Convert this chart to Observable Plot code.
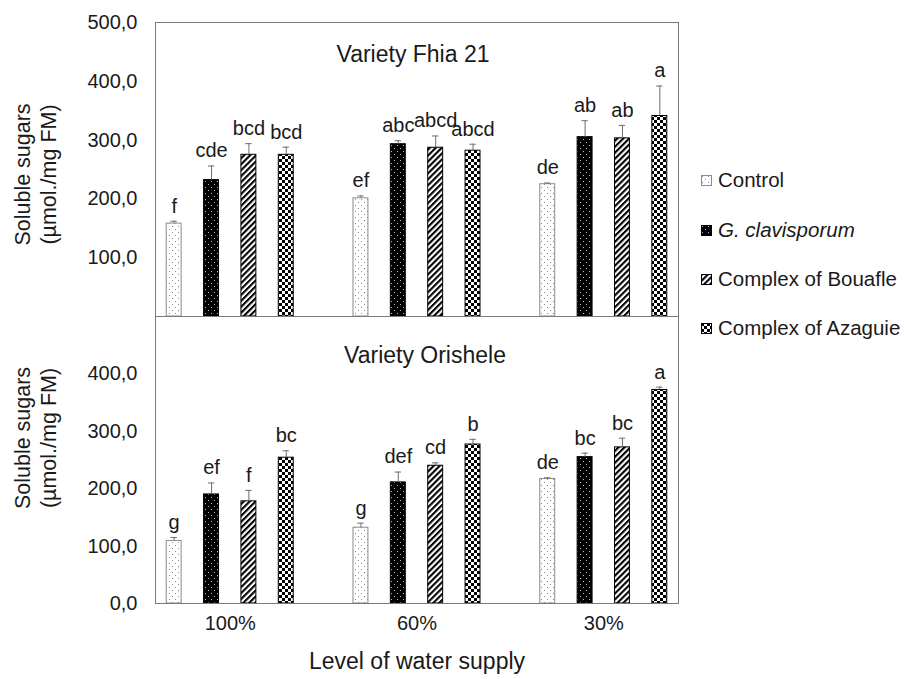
<!DOCTYPE html>
<html>
<head>
<meta charset="utf-8">
<script src="https://cdn.jsdelivr.net/npm/d3@7"></script>
<script src="https://cdn.jsdelivr.net/npm/@observablehq/plot@0.6"></script>
<style>
  body { margin: 0; background: #fff; font-family: "Liberation Sans", Arial, sans-serif; }
  #wrap { position: relative; width: 904px; height: 679px; overflow: hidden; }
  #wrap svg { display: block; }
  .leg { position: absolute; left: 701px; font-size: 20.5px; line-height: 24px; color: #1a1a1a; white-space: nowrap; display: flex; align-items: center; }
  .leg svg { margin-right: 6px; }
</style>
</head>
<body>
<svg width="0" height="0" style="position:absolute">
  <defs>
    <pattern id="pCtrl" patternUnits="userSpaceOnUse" width="6" height="6">
      <rect width="6" height="6" fill="#fff"/>
      <rect x="1" y="1" width="1" height="1" fill="#8a8a8a"/>
      <rect x="4" y="4" width="1" height="1" fill="#8a8a8a"/>
    </pattern>
    <pattern id="pGcl" patternUnits="userSpaceOnUse" width="6" height="6">
      <rect width="6" height="6" fill="#000"/>
      <rect x="1" y="1" width="1" height="1" fill="#bdbdbd"/>
      <rect x="4" y="4" width="1" height="1" fill="#bdbdbd"/>
    </pattern>
    <pattern id="pBou" patternUnits="userSpaceOnUse" width="4.2" height="4.2" patternTransform="rotate(45)">
      <rect width="4.2" height="4.2" fill="#fff"/>
      <rect width="2.1" height="4.2" fill="#000"/>
    </pattern>
    <pattern id="pAza" patternUnits="userSpaceOnUse" width="6" height="6">
      <rect width="6" height="6" fill="#fff"/>
      <rect width="3" height="3" fill="#000"/>
      <rect x="3" y="3" width="3" height="3" fill="#000"/>
    </pattern>
  </defs>
</svg>
<div id="wrap"></div>
<script>
// ---- data ----
const groups = ["100%", "60%", "30%"];
const series = ["Control", "G. clavisporum", "Complex of Bouafle", "Complex of Azaguie"];
const yTicksTop = [100, 200, 300, 400, 500];
const yTicksBottom = [0, 100, 200, 300, 400];

// Variety Fhia 21 (rows: water supply level, columns: series)
const fhiaMeans = [[158, 232, 275, 275], [201, 293, 287, 282], [225, 305, 303, 341]];
const fhiaErrors = [[4, 24, 19, 13], [4, 6, 20, 11], [2, 28, 22, 51]];
const fhiaLetters = [["f", "cde", "bcd", "bcd"], ["ef", "abc", "abcd", "abcd"], ["de", "ab", "ab", "a"]];

// Variety Orishele
const orishMeans = [[109, 190, 178, 254], [132, 211, 240, 277], [217, 255, 272, 372]];
const orishErrors = [[6, 20, 19, 12], [8, 18, 5, 9], [2, 7, 16, 5]];
const orishLetters = [["g", "ef", "f", "bc"], ["g", "def", "cd", "b"], ["de", "bc", "bc", "a"]];

// ---- styles ----
const fills = ["url(#pCtrl)", "url(#pGcl)", "url(#pBou)", "url(#pAza)"];
const outlines = ["#8c8c8c", "#000", "#000", "#000"];
const FONT = "'Liberation Sans', Arial, sans-serif";
const fmt = d => d.toFixed(1).replace(".", ",");

function table(means, errs, letters) {
  return groups.flatMap((g, i) => series.map((s, j) => ({
    gi: i, sj: j, x: i + (j - 1.5) * 0.2,
    mean: means[i][j], err: errs[i][j], letter: letters[i][j]
  })));
}

function panelMarks(rows) {
  const marks = [];
  series.forEach((s, j) => {
    marks.push(Plot.rect(rows.filter(d => d.sj === j), {
      x1: d => d.x - 0.04, x2: d => d.x + 0.04, y1: d => 0, y2: "mean",
      fill: fills[j], stroke: outlines[j], strokeWidth: 1
    }));
  });
  marks.push(Plot.ruleX(rows, {x: "x", y1: "mean", y2: d => d.mean + d.err, stroke: "#6e6e6e", strokeWidth: 1}));
  marks.push(Plot.ruleY(rows, {y: d => d.mean + d.err, x1: d => d.x - 0.017, x2: d => d.x + 0.017, stroke: "#6e6e6e", strokeWidth: 1}));
  marks.push(Plot.text(rows, {x: "x", y: d => d.mean + d.err, text: "letter", dy: -15, fontSize: 20, fill: "#1a1a1a"}));
  return marks;
}

const yLabel = "Soluble sugars\n(µmol./mg FM)";

const topPlot = Plot.plot({
  width: 904, height: 316,
  marginLeft: 155, marginRight: 226, marginTop: 22, marginBottom: 0,
  style: {fontFamily: FONT, fontSize: "20px", color: "#1a1a1a", background: "transparent", overflow: "visible"},
  x: {type: "linear", domain: [-0.4, 2.4], axis: null},
  y: {domain: [0, 500], axis: null},
  marks: [
    ...panelMarks(table(fhiaMeans, fhiaErrors, fhiaLetters)),
    Plot.axisY({ticks: yTicksTop, tickSize: 0, tickPadding: 18, tickFormat: fmt, fontSize: 20, label: null}),
    Plot.text(["Variety Fhia 21"], {text: d => d, frameAnchor: "top", dy: 23, dx: -4, fontSize: 23, fill: "#1a1a1a"}),
    Plot.text([yLabel], {text: d => d, frameAnchor: "left", textAnchor: "middle", rotate: -90, dx: -121, dy: 5, fontSize: 21.5, lineHeight: 1.2, fill: "#1a1a1a"}),
    Plot.frame({stroke: "#7a7a7a"})
  ]
});

const bottomPlot = Plot.plot({
  width: 904, height: 363,
  marginLeft: 155, marginRight: 226, marginTop: 0, marginBottom: 76,
  style: {fontFamily: FONT, fontSize: "20px", color: "#1a1a1a", background: "transparent", overflow: "visible"},
  x: {type: "linear", domain: [-0.4, 2.4], axis: null},
  y: {domain: [0, 500], axis: null},
  marks: [
    ...panelMarks(table(orishMeans, orishErrors, orishLetters)),
    Plot.axisY({ticks: yTicksBottom, tickSize: 0, tickPadding: 18, tickFormat: fmt, fontSize: 20, label: null}),
    Plot.axisX({ticks: [0, 1, 2], tickFormat: i => groups[i], tickSize: 0, tickPadding: 12, fontSize: 20, label: null}),
    Plot.text(["Variety Orishele"], {text: d => d, frameAnchor: "top", dy: 30, dx: 8, fontSize: 23, fill: "#1a1a1a"}),
    Plot.text([yLabel], {text: d => d, frameAnchor: "left", textAnchor: "middle", rotate: -90, dx: -121, dy: -22, fontSize: 21.5, lineHeight: 1.2, fill: "#1a1a1a"}),
    Plot.text(["Level of water supply"], {text: d => d, frameAnchor: "bottom", dy: 65, dx: 0, fontSize: 23, fill: "#1a1a1a"}),
    Plot.frame({stroke: "#7a7a7a"})
  ]
});

const wrap = document.getElementById("wrap");
wrap.appendChild(topPlot);
wrap.appendChild(bottomPlot);

// legend
const legendCenters = [180, 230, 279, 328];
series.forEach((s, j) => {
  const row = document.createElement("div");
  row.className = "leg";
  row.style.top = (legendCenters[j] - 12) + "px";
  row.innerHTML = `<svg width="11" height="11"><rect x="0.5" y="0.5" width="10" height="10" fill="${fills[j]}" stroke="${outlines[j]}"/></svg>` +
    `<span style="${j === 1 ? 'font-style:italic' : ''}">${s}</span>`;
  wrap.appendChild(row);
});
</script>
</body>
</html>
